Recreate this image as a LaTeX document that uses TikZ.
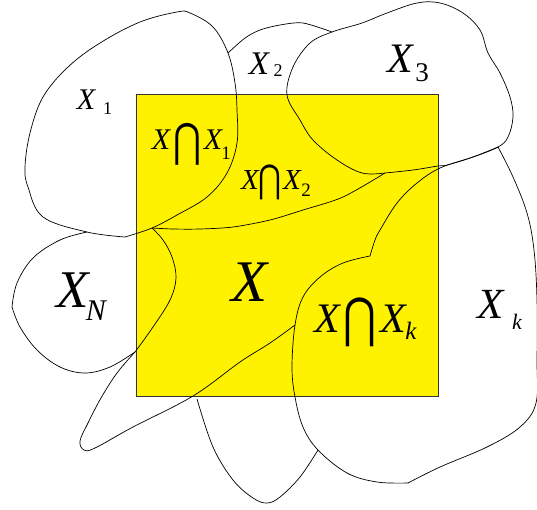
\documentclass[tikz,border=0pt]{standalone}
\usepackage{fontspec}
\usepackage{graphicx}
\setmainfont{Liberation Serif}
\newfontfamily\symfnt{DejaVu Sans}
\newcommand{\fsz}[1]{\fontsize{#1}{#1}\selectfont}
\newcommand{\capglyph}[2]{\resizebox*{#1}{#2}{\symfnt ⋂}}
\tikzset{
  blob/.style={draw=black, line width=0.7pt, line join=round},
  lbl/.style={inner sep=0pt, outer sep=0pt},
  sqr/.style={fill=yellow, draw=black!80, line width=0.7pt},
}
\begin{document}
\begin{tikzpicture}[x=1pt, y=-1pt]
\useasboundingbox (0,0) rectangle (537,509);
\clip (0,0) rectangle (537,509);
% yellow square
\path[sqr] (136,94) rectangle (438,396);
% X1
\draw[blob] plot[smooth, tension=0.6] coordinates {(125,237) (87,232) (43,217) (28,187) (25,167) (30,133) (43,97) (68,67) (100,43) (140,22) (177,12) (190,13) (213,27) (228,53) (235,83) (237,110) (237,143) (227,173) (207,197) (177,215) (152,228) (125,237)};
% X2 top arc and lower boundary
\draw[blob] plot[smooth] coordinates {(228,53) (245,38) (260,30) (280,25) (303,23) (332,32)};
\draw[blob] plot[smooth] coordinates {(152,228) (173,229) (200,229) (233,227) (270,220) (303,210) (343,197) (385,173)};
% X3
\draw[blob] plot[smooth, tension=0.6] coordinates {(385,173) (362,173) (337,160) (313,140) (300,120) (287,95) (293,67) (310,43) (332,32) (362,23) (387,13) (417,3) (440,3) (463,13) (480,30) (488,53) (500,73) (510,97) (513,117) (508,137) (498,147) (473,157) (447,165) (438,166) (413,170) (385,173)};
% Xk
\draw[blob] plot[smooth, tension=0.6] coordinates {(498,147) (513,177) (527,213) (534,250) (537,300) (537,360) (536,403) (520,427) (487,447) (440,467) (408,483)};
\draw[blob] plot[smooth, tension=0.6] coordinates {(408,483) (377,482) (347,473) (318,450) (303,427) (295,397) (292,367) (295,325) (303,297) (320,277) (343,263) (370,256)};
\draw[blob] plot[smooth, tension=0.6] coordinates {(370,256) (375,240) (380,230) (397,203) (417,183) (440,168) (473,157) (498,147)};
% lower loop
\draw[blob] plot[smooth, tension=0.6] coordinates {(135,352) (117,373) (101,398) (88,423) (80,441) (84,450) (95,448) (133,427) (193,396) (240,362) (270,343) (295,325)};
% bottom blob
\draw[blob] plot[smooth, tension=0.6] coordinates {(197,399) (213,447) (233,480) (253,498) (267,503) (280,497) (300,477) (318,450)};
% XN
\draw[blob] plot[smooth, tension=0.6] coordinates {(87,232) (60,240) (33,258) (17,283) (12,307)};
\draw[blob] plot[smooth, tension=0.6] coordinates {(12,307) (20,327) (37,350) (60,367) (85,373) (110,367) (135,352)};
\draw[blob] plot[smooth, tension=0.6] coordinates {(152,228) (163,240) (172,257) (176,278) (170,300) (153,327) (135,352)};
% labels
\node[lbl, font=\fsz{30}\itshape] (x1a) at (86,100) {X};
\node[lbl, font=\fsz{18}] (x1b) at (107.5,109) {1};
\node[lbl, font=\fsz{33}\itshape] (x2a) at (259,64) {X};
\node[lbl, font=\fsz{18}] (x2b) at (278,71) {2};
\node[lbl, font=\fsz{42}\itshape] (x3a) at (400,59) {X};
\node[lbl, font=\fsz{27}] (x3b) at (422,73) {3};
\node[lbl, font=\fsz{53}\itshape] (xna) at (73,290) {X};
\node[lbl, font=\fsz{30}\itshape] (xnb) at (96,311) {N};
\node[lbl, font=\fsz{59}\itshape] (xc) at (250,282) {X};
\node[lbl, font=\fsz{43}\itshape] (xka) at (491,304) {X};
\node[lbl, font=\fsz{22}\itshape] (xkb) at (517,322) {k};
% X cap X1
\node[lbl, font=\fsz{30}\itshape] (i1a) at (161,140) {X};
\node[lbl] (i1c) at (187,144) {\capglyph{28pt}{42pt}};
\node[lbl, font=\fsz{30}\itshape] (i1b) at (213,140) {X};
\node[lbl, font=\fsz{19}] (i1s) at (226,153) {1};
% X cap X2
\node[lbl, font=\fsz{29}\itshape] (i2a) at (250,180) {X};
\node[lbl] (i2c) at (270,182) {\capglyph{23pt}{35pt}};
\node[lbl, font=\fsz{29}\itshape] (i2b) at (292,180) {X};
\node[lbl, font=\fsz{19}] (i2s) at (306,190) {2};
% X cap Xk
\node[lbl, font=\fsz{42}\itshape] (ika) at (327,319) {X};
\node[lbl] (ikc) at (360,322) {\capglyph{33pt}{49pt}};
\node[lbl, font=\fsz{42}\itshape] (ikb) at (393,319) {X};
\node[lbl, font=\fsz{25}\itshape] (iks) at (411,331) {k};
\end{tikzpicture}
\end{document}
